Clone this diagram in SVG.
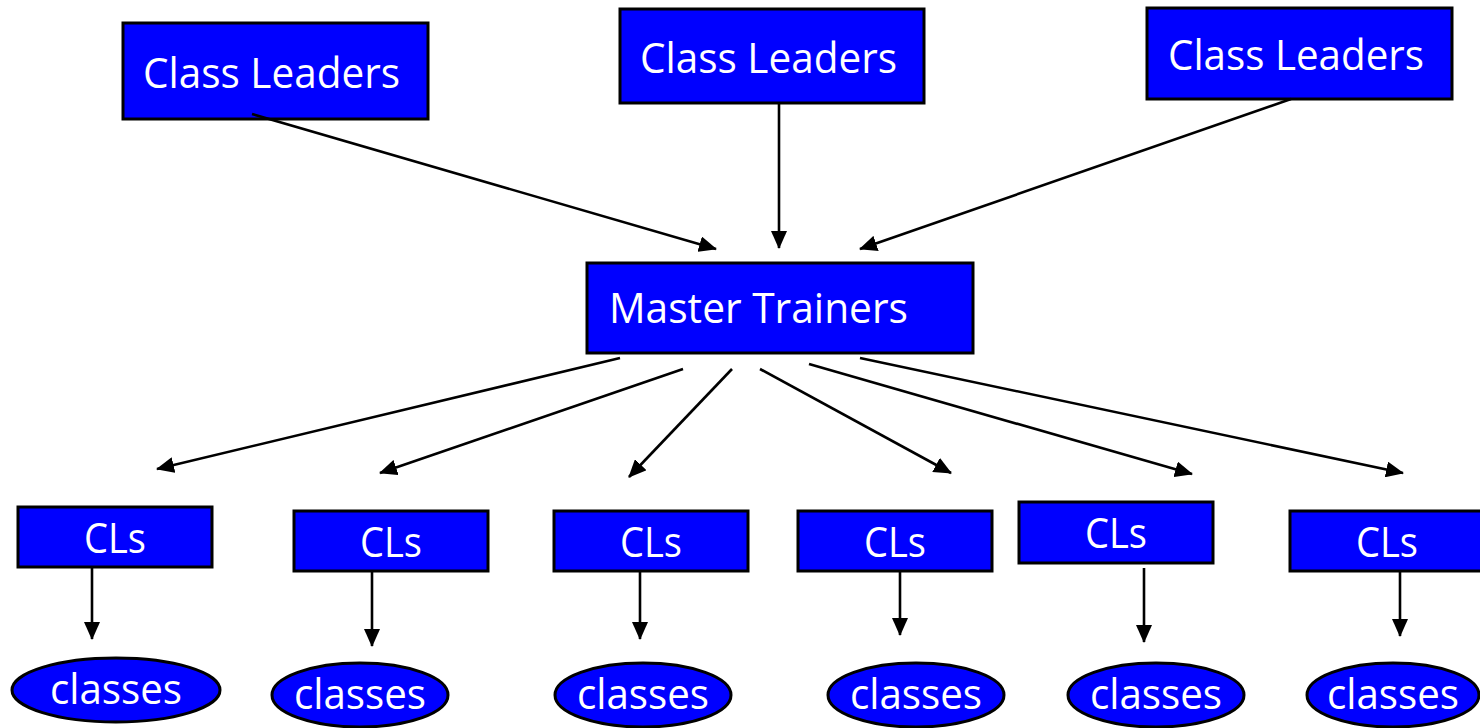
<svg xmlns="http://www.w3.org/2000/svg" width="1480" height="728" viewBox="0 0 1480 728">
<style>
.box{fill:#0000FF;stroke:#000;stroke-width:3}
.t{fill:#fff;font-family:"Open Sans","Noto Sans","Liberation Sans",sans-serif;font-size:42px}
.c{text-anchor:middle}
.edge{stroke:#000;stroke-width:2.6;fill:none;marker-end:url(#ah)}
</style>
<defs>
<marker id="ah" markerUnits="userSpaceOnUse" markerWidth="18" markerHeight="16" viewBox="0 0 18 16" refX="17" refY="8" orient="auto">
<path d="M0,0 L18,8 L0,16 Z" fill="#000"/>
</marker>
</defs>
<g id="cl1"><rect class="box" x="123" y="23" width="305" height="96"/><text class="t" x="143" y="88" textLength="257" lengthAdjust="spacingAndGlyphs">Class Leaders</text></g>
<g id="cl2"><rect class="box" x="620" y="9" width="304" height="94"/><text class="t" x="640" y="73" textLength="257" lengthAdjust="spacingAndGlyphs">Class Leaders</text></g>
<g id="cl3"><rect class="box" x="1147" y="8" width="305" height="91"/><text class="t" x="1168" y="70" textLength="256" lengthAdjust="spacingAndGlyphs">Class Leaders</text></g>
<g id="master"><rect class="box" x="587" y="263" width="386" height="90"/><text class="t" x="609" y="323" textLength="299" lengthAdjust="spacingAndGlyphs">Master Trainers</text></g>
<g id="cls1"><rect class="box" x="18" y="507" width="194" height="60"/><text class="t" x="84" y="553" textLength="62" lengthAdjust="spacingAndGlyphs">CLs</text></g>
<g id="cls2"><rect class="box" x="294" y="511" width="194" height="60"/><text class="t" x="360" y="557" textLength="62" lengthAdjust="spacingAndGlyphs">CLs</text></g>
<g id="cls3"><rect class="box" x="554" y="511" width="194" height="60"/><text class="t" x="620" y="557" textLength="62" lengthAdjust="spacingAndGlyphs">CLs</text></g>
<g id="cls4"><rect class="box" x="798" y="511" width="194" height="60"/><text class="t" x="864" y="557" textLength="62" lengthAdjust="spacingAndGlyphs">CLs</text></g>
<g id="cls5"><rect class="box" x="1019" y="502" width="194" height="61"/><text class="t" x="1085" y="548" textLength="62" lengthAdjust="spacingAndGlyphs">CLs</text></g>
<g id="cls6"><rect class="box" x="1290" y="511" width="196" height="60"/><text class="t" x="1356" y="557" textLength="62" lengthAdjust="spacingAndGlyphs">CLs</text></g>
<g id="classes1"><ellipse class="box" cx="116" cy="690" rx="104" ry="32"/><text class="t c" x="116" y="704" textLength="132" lengthAdjust="spacingAndGlyphs">classes</text></g>
<g id="classes2"><ellipse class="box" cx="360" cy="695" rx="88" ry="32"/><text class="t c" x="360" y="709" textLength="132" lengthAdjust="spacingAndGlyphs">classes</text></g>
<g id="classes3"><ellipse class="box" cx="643" cy="695" rx="88" ry="32"/><text class="t c" x="643" y="709" textLength="132" lengthAdjust="spacingAndGlyphs">classes</text></g>
<g id="classes4"><ellipse class="box" cx="916" cy="695" rx="88" ry="32"/><text class="t c" x="916" y="709" textLength="132" lengthAdjust="spacingAndGlyphs">classes</text></g>
<g id="classes5"><ellipse class="box" cx="1156" cy="695" rx="88" ry="32"/><text class="t c" x="1156" y="709" textLength="132" lengthAdjust="spacingAndGlyphs">classes</text></g>
<g id="classes6"><ellipse class="box" cx="1393" cy="695" rx="86" ry="32"/><text class="t c" x="1393" y="709" textLength="132" lengthAdjust="spacingAndGlyphs">classes</text></g>
<g id="connectors">
<line class="edge" x1="252" y1="114" x2="716" y2="249"/>
<line class="edge" x1="779" y1="103" x2="779" y2="248"/>
<line class="edge" x1="1291" y1="99" x2="860" y2="249"/>
<line class="edge" x1="620" y1="358" x2="157" y2="469"/>
<line class="edge" x1="683" y1="369" x2="380" y2="473"/>
<line class="edge" x1="732" y1="369" x2="629" y2="477"/>
<line class="edge" x1="760" y1="369" x2="951" y2="473"/>
<line class="edge" x1="809" y1="364" x2="1192" y2="474"/>
<line class="edge" x1="860" y1="358" x2="1403" y2="473"/>
<line class="edge" x1="92" y1="567" x2="92" y2="639"/>
<line class="edge" x1="372" y1="571" x2="372" y2="646"/>
<line class="edge" x1="640" y1="571" x2="640" y2="639"/>
<line class="edge" x1="900" y1="571" x2="900" y2="635"/>
<line class="edge" x1="1144" y1="568" x2="1144" y2="642"/>
<line class="edge" x1="1400" y1="571" x2="1400" y2="636"/>
</g>
</svg>
